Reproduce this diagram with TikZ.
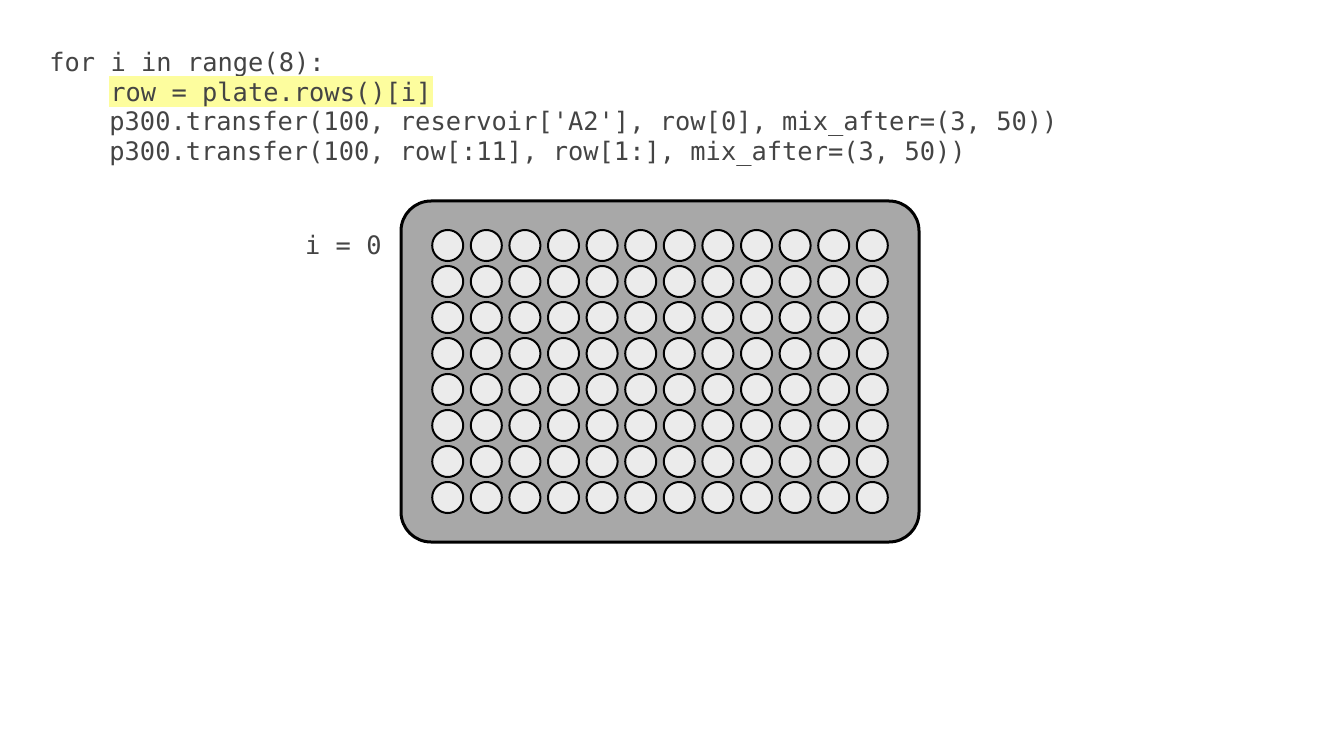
\documentclass[tikz,border=0pt]{standalone}
\usepackage{fontspec}
\setmonofont{DejaVu Sans Mono}
\usepackage{tikz}
\usetikzlibrary{calc,positioning,shapes}
\definecolor{codegray}{HTML}{444444}
\definecolor{platefill}{HTML}{A8A8A8}
\definecolor{wellfill}{HTML}{EBEBEB}
\definecolor{marker}{HTML}{FDFD9E}
\tikzstyle{codeline} = [anchor=base west, inner sep=0pt, text=codegray,
                        font=\ttfamily\fontsize{12.7pt}{15pt}\selectfont]
\tikzstyle{plate}    = [rectangle, rounded corners=15pt, draw=black, line width=1.5pt,
                        fill=platefill, minimum width=259pt, minimum height=170.5pt]

\begin{document}
\begin{tikzpicture}[
			x=0.5pt,y=-0.5pt,
			well/.style={
					circle,
					draw=black,
					line width=1pt,
					fill=wellfill,
					minimum size=15.5pt,
					inner sep=0pt
				},
			hilite/.style={fill=marker, inner xsep=0.5pt,
					text height=12.5pt, text depth=2.8pt}
		]
		\useasboundingbox (0,0) rectangle (1320,743);

		% code
		\node[codeline] (L1) at (49,72) {for i in range(8):};
		\node[codeline,hilite] (L2) at (109,101.5) {row = plate.rows()[i]};
		\node[codeline] (L3) at (109,131) {p300.transfer(100, reservoir['A2'], row[0], mix\_after=(3, 50))};
		\node[codeline] (L4) at (109,160.5) {p300.transfer(100, row[:11], row[1:], mix\_after=(3, 50))};

		% plate with 8 x 12 wells
		\node[plate] (P) at (660,371.5) {};
		\foreach \r in {1,...,8}
			\foreach \c in {1,...,12}
				\node[well] (w-\r-\c) at ($(P.center)+({(\c-6.5)*38.6},{(\r-4.5)*36})$) {};

		\node[codeline,anchor=base east] (I) at (382,254) {i = 0};
	\end{tikzpicture}
\end{document}
